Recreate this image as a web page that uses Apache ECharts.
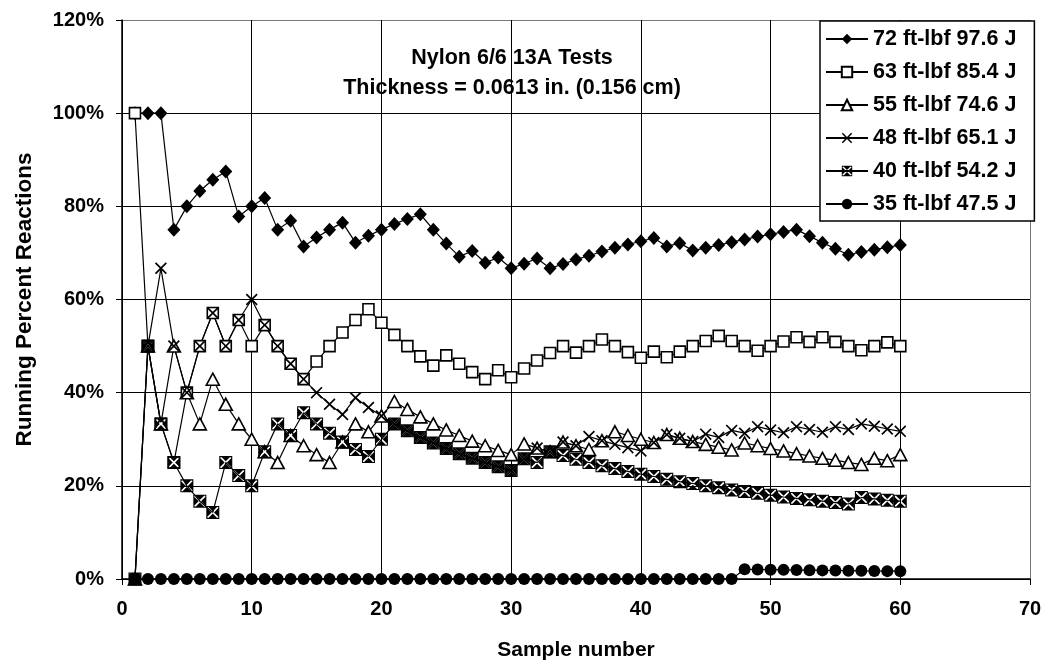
<!DOCTYPE html>
<html>
<head>
<meta charset="UTF-8">
<title>Nylon 6/6 13A Tests</title>
<script type="text/javascript" src="https://cdn.jsdelivr.net/npm/echarts@6/dist/echarts.min.js"></script>
<style>
  body{margin:0;background:#fff}
</style>
</head>
<body>
<div id="main" style="width:1046px;height:669px"></div>
<script type="text/javascript">
// sample number (x)
var samples = [1,2,3,4,5,6,7,8,9,10,11,12,13,14,15,16,17,18,19,20,
  21,22,23,24,25,26,27,28,29,30,31,32,33,34,35,36,37,38,39,40,
  41,42,43,44,45,46,47,48,49,50,51,52,53,54,55,56,57,58,59,60];

// running percent reactions
var s72 = [100,100,100,75,80,83.3,85.7,87.5,77.8,80,81.8,75,76.9,71.4,73.3,75,76.5,72.2,73.7,75,
  76.2,77.3,78.3,75,72,69.2,70.4,67.9,69,66.7,67.7,68.8,66.7,67.6,68.6,69.4,70.3,71.1,71.8,72.5,
  73.2,71.4,72.1,70.5,71.1,71.7,72.3,72.9,73.5,74,74.5,75,73.6,72.2,70.9,69.6,70.2,70.7,71.2,71.7];
var s63 = [100,50,33.3,25,40,50,57.1,50,55.6,50,54.5,50,46.2,42.9,46.7,50,52.9,55.6,57.9,55,
  52.4,50,47.8,45.8,48,46.2,44.4,42.9,44.8,43.3,45.2,46.9,48.5,50,48.6,50,51.4,50,48.7,47.5,
  48.8,47.6,48.8,50,51.1,52.2,51.1,50,49,50,51,51.9,50.9,51.9,50.9,50,49.1,50,50.8,50];
var s55 = [0,50,33.3,50,40,33.3,42.9,37.5,33.3,30,27.3,25,30.8,28.6,26.7,25,29.4,33.3,31.6,35,
  38.1,36.4,34.8,33.3,32,30.8,29.6,28.6,27.6,26.7,29,28.1,27.3,29.4,28.6,27.8,29.7,31.6,30.8,30,
  29.3,31,30.2,29.5,28.9,28.3,27.7,29.2,28.6,28,27.5,26.9,26.4,25.9,25.5,25,24.6,25.9,25.4,26.7];
var s48 = [0,50,66.7,50,40,50,57.1,50,55.6,60,54.5,50,46.2,42.9,40,37.5,35.3,38.9,36.8,35,
  33.3,31.8,30.4,29.2,28,26.9,25.9,25,24.1,23.3,25.8,28.1,27.3,29.4,28.6,30.6,29.7,28.9,28.2,27.5,
  29.3,31,30.2,29.5,31.1,30.4,31.9,31.3,32.7,32,31.4,32.7,32.1,31.5,32.7,32.1,33.3,32.8,32.2,31.7];
var s40 = [0,50,33.3,25,20,16.7,14.3,25,22.2,20,27.3,33.3,30.8,35.7,33.3,31.3,29.4,27.8,26.3,30,
  33.3,31.8,30.4,29.2,28,26.9,25.9,25,24.1,23.3,25.8,25,27.3,26.5,25.7,25,24.3,23.7,23.1,22.5,
  22,21.4,20.9,20.5,20,19.6,19.1,18.8,18.4,18,17.6,17.3,17,16.7,16.4,16.1,17.5,17.2,16.9,16.7];
var s35 = [0,0,0,0,0,0,0,0,0,0,0,0,0,0,0,0,0,0,0,0,
  0,0,0,0,0,0,0,0,0,0,0,0,0,0,0,0,0,0,0,0,
  0,0,0,0,0,0,0,2.08,2.04,2,1.96,1.92,1.89,1.85,1.82,1.79,1.75,1.72,1.69,1.67];

var names = ['72 ft-lbf 97.6 J','63 ft-lbf 85.4 J','55 ft-lbf 74.6 J','48 ft-lbf 65.1 J','40 ft-lbf 54.2 J','35 ft-lbf 47.5 J'];

var FONT = '"Liberation Sans", Arial, sans-serif';
var crossPath = 'path://M0,1.2L1.2,0L6,4.8L10.8,0L12,1.2L7.2,6L12,10.8L10.8,12L6,7.2L1.2,12L0,10.8L4.8,6Z';
// black square with a thin white X through it
var boxXPath = 'path://M1.1,0L10.9,0L6,4.9Z M12,1.1L12,10.9L7.1,6Z M10.9,12L1.1,12L6,7.1Z M0,10.9L0,1.1L4.9,6Z' +
  ' M0,0L12,0L12,1L0,1Z M11,0L12,0L12,12L11,12Z M0,11L12,11L12,12L0,12Z M0,0L1,0L1,12L0,12Z';

function pairs(vals) {
  return samples.map(function (x, i) { return [x, vals[i]]; });
}

function mk(name, vals, symbol, size, fill) {
  return {
    name: name,
    type: 'line',
    data: pairs(vals),
    symbol: symbol,
    symbolSize: size,
    showAllSymbol: true,
    animation: false,
    lineStyle: { color: '#000', width: 1.2 },
    itemStyle: { color: fill, borderColor: '#000', borderWidth: fill === '#fff' ? 1.6 : 0 }
  };
}

var myChart = echarts.init(document.getElementById('main'));

var option = {
  backgroundColor: '#fff',
  animation: false,
  title: {
    text: 'Nylon 6/6 13A Tests\nThickness = 0.0613 in. (0.156 cm)',
    left: 507,
    top: 38,
    textAlign: 'center',
    textStyle: { fontFamily: FONT, fontSize: 21.5, fontWeight: 'bold', color: '#000', lineHeight: 30 }
  },
  legend: {
    orient: 'vertical',
    left: 820,
    top: 21,
    padding: [7, 18, 6, 5],
    itemGap: 11,
    itemWidth: 42,
    itemHeight: 13,
    borderColor: '#000',
    borderWidth: 1.5,
    backgroundColor: '#fff',
    data: names,
    textStyle: { fontFamily: FONT, fontSize: 21.5, fontWeight: 'bold', color: '#000', lineHeight: 20 }
  },
  grid: { left: 122, right: 16, top: 20, bottom: 90 },
  xAxis: {
    type: 'value',
    min: 0, max: 70, interval: 10,
    name: 'Sample number',
    nameLocation: 'middle',
    nameGap: 61,
    nameTextStyle: { fontFamily: FONT, fontSize: 21, fontWeight: 'bold', color: '#000' },
    axisLine: { onZero: false, lineStyle: { color: '#000', width: 1.5 } },
    axisTick: { show: true, length: 6, lineStyle: { color: '#000' } },
    axisLabel: { margin: 20, fontFamily: FONT, fontSize: 20, fontWeight: 'bold', color: '#000' },
    splitLine: { show: true, lineStyle: { color: ['#000','#000','#000','#000','#000','#000','#000','#777'], width: 1 } }
  },
  yAxis: {
    type: 'value',
    min: 0, max: 120, interval: 20,
    name: 'Running Percent Reactions',
    nameLocation: 'middle',
    nameGap: 86,
    nameTextStyle: { fontFamily: FONT, fontSize: 22.5, fontWeight: 'bold', color: '#000' },
    axisLine: { show: true, lineStyle: { color: '#000', width: 1.5 } },
    axisTick: { show: true, length: 6, lineStyle: { color: '#000' } },
    axisLabel: { margin: 18, formatter: '{value}%', fontFamily: FONT, fontSize: 20, fontWeight: 'bold', color: '#000' },
    splitLine: { show: true, lineStyle: { color: ['#000','#000','#000','#000','#000','#000','#777'], width: 1 } }
  },
  series: [
    mk(names[0], s72, 'diamond', [13, 14], '#000'),
    mk(names[1], s63, 'rect', 11, '#fff'),
    mk(names[2], s55, 'triangle', [13, 12], '#fff'),
    mk(names[3], s48, crossPath, 12, '#000'),
    mk(names[4], s40, boxXPath, 13, '#000'),
    mk(names[5], s35, 'circle', 12, '#000')
  ]
};

myChart.setOption(option);
</script>
</body>
</html>
